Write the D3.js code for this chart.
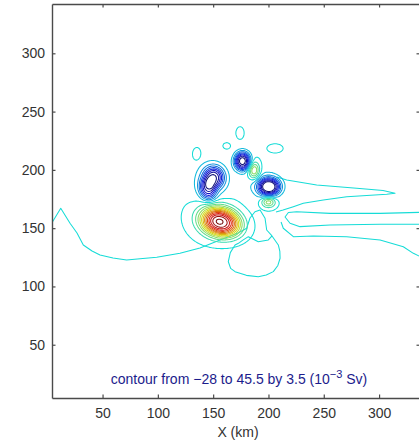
<!DOCTYPE html>
<html>
<head>
<meta charset="utf-8">
<script src="https://cdn.jsdelivr.net/npm/d3@7"></script>
<style>
  body { margin: 0; background: #fff; }
  svg { display: block; }
  text { font-family: "Liberation Sans", Arial, Helvetica, sans-serif; }
</style>
</head>
<body>
<script>
// Contour levels of the transport streamfunction (10^-3 Sv)
const levelMin = -28, levelMax = 45.5, levelStep = 3.5;
const xTicks = [50, 100, 150, 200, 250, 300];
const yTicks = [50, 100, 150, 200, 250, 300];

// Eddy features of the streamfunction field: centre (km), peak value (10^-3 Sv),
// e-folding radii (km), rotation (deg) and profile sharpness.
const eddyX     = [157,   150,  150.5,  145,   148,   176.5,  200.5, 196,   187,  200,  174.3, 162.2, 135.4, 205.9, 124.5, 146.5];
const eddyY     = [155,   160,  193.5,  183,   190,   207.5,  185.5, 188,   199.5, 172.5, 231.6, 220.5, 212.8, 218.4, 163,   212.5];
const eddyPeak  = [42,    6,    -22,    -18,   -7,    -30,    -31,   -4.5,  16,   14,   2,     2,     2,     2,     2,     2];
const eddyRx    = [17,    18,   9,      7,     15,    7,      9.5,   17,    5,    6,    3.4,   3.3,   4.2,   6.8,   1.4,   1.0];
const eddyRy    = [11.5,  16,   9,      9,     17,    7.7,    7.3,   13,    7,    4.5,  5,     2.6,   6.3,   3.6,   1.4,   1.0];
const eddyRot   = [-12,   0,    0,      20,    0,     0,      0,     0,     0,    0,    0,     0,     0,     0,     0,     0];
const eddyShape = [2.5,   2,    2.5,    2.5,   2,     2.5,    2.5,   2,     2,    2,    4,     4,     4,     4,     4,     4];
const background = -0.5;

// Zero streamline traced across the domain (km)
const zeroWest = [[4.0,154.2],[12.2,167.0],[20.6,154.2],[26.9,145.8],[32.6,135.6],[40.5,130.4],
  [47.7,127.0],[59.5,124.4],[71.8,122.7],[83.9,123.8],[99.0,125.0],[120.0,128.4],[138.1,133.0],
  [156.2,139.9],[172.5,145.9],[180.3,149.9],[183.3,158.7],[187.8,164.1],[192.4,165.6],
  [196.9,158.5],[198.4,148.4],[203.2,143.3]];
const zeroBasin = [[172.8,137.0],[169.8,135.6],[165.5,129],[163.7,121.2],[165.8,115.5],[169.8,112.7],
  [180,109.5],[190.8,108.4],[198,109.8],[204.4,112.7],[208.5,118],[210.5,124.2],[210.3,130],
  [208.9,135.6],[203.2,143.3],[199.9,139.9],[190.8,138.4],[181.8,142.7],[176.5,139.5],[172.8,137.0]];
const zeroNorthTongue = [[207.5,193.9],[216.5,191.3],[243.6,187.0],[279.8,184.2],[303.6,182.3],
  [314.4,179.9],[306.9,179.1],[270.8,177.0],[249.6,174.2],[231.5,171.3],[222.5,168.4],
  [213.2,165.6],[206.8,163.9]];
const zeroMidTongue = [[338,163.6],[300.9,162.7],[255.7,162.7],[225.5,164.1],[218.0,163.4],
  [215.0,159.6],[219.5,154.2],[228.5,151.3],[255.7,152.7],[300.9,153.3],[338,153.3]];
const zeroSouthTongue = [[211.4,155.3],[213.4,149.9],[222.5,142.7],[240.6,143.3],[270.7,142.7],
  [300.9,139.9],[321.9,134.1],[331.0,128.4],[338,125.3]];
const zeroLines = [zeroWest, zeroBasin, zeroNorthTongue, zeroMidTongue, zeroSouthTongue];

const W = 419, H = 442;
const plot = { left: 52, right: 420, top: 4, bottom: 398 };

const x = d3.scaleLinear().domain([4.3, 337]).range([plot.left, plot.right]);
const y = d3.scaleLinear().domain([4.3, 342.3]).range([plot.bottom, plot.top]);

// Jet colour map over the contour level range, slightly toned
function jet(t) {
  const c = v => Math.max(0, Math.min(1, v));
  const r = c(1.5 - Math.abs(4 * t - 3));
  const g = c(1.5 - Math.abs(4 * t - 2));
  const b = c(1.5 - Math.abs(4 * t - 1));
  const base = d3.rgb(r * 255, g * 255, b * 255);
  return d3.rgb(d3.interpolateRgb(base, "#808080")(0.15)).darker(0.2).formatHex();
}
const levels = d3.range(levelMin, levelMax + levelStep / 2, levelStep).map(v => +v.toFixed(2));
const colour = d3.scaleLinear().domain([levelMin, levelMax]).range([0, 1]);
const levelColour = v => jet(colour(v));

// Gridded field
const g0 = 2, step = 1, n = 342;
const values = new Float64Array(n * n);
const rad = eddyRot.map(d => d * Math.PI / 180);
for (let j = 0; j < n; j++) {
  const yy = g0 + j * step;
  for (let i = 0; i < n; i++) {
    const xx = g0 + i * step;
    let v = background;
    for (let k = 0; k < eddyX.length; k++) {
      const dx = xx - eddyX[k], dy = yy - eddyY[k];
      if (Math.abs(dx) > 6 * eddyRx[k] + 20 || Math.abs(dy) > 6 * eddyRy[k] + 20) continue;
      const cs = Math.cos(rad[k]), sn = Math.sin(rad[k]);
      const u = (dx * cs + dy * sn) / eddyRx[k];
      const w = (-dx * sn + dy * cs) / eddyRy[k];
      const q = u * u + w * w;
      v += eddyPeak[k] * Math.exp(-Math.pow(q, eddyShape[k] / 2));
    }
    values[j * n + i] = v;
  }
}
const negValues = values.map(v => -v);

const svg = d3.select("body").append("svg").attr("width", W).attr("height", H);
svg.append("clipPath").attr("id", "plotClip").append("rect")
  .attr("x", plot.left).attr("y", plot.top)
  .attr("width", plot.right - plot.left).attr("height", plot.bottom - plot.top);

const gridProjection = d3.geoTransform({
  point(px, py) {
    this.stream.point(x(g0 + (px - 0.5) * step), y(g0 + (py - 0.5) * step));
  }
});
const path = d3.geoPath(gridProjection);

const layer = svg.append("g").attr("clip-path", "url(#plotClip)");

// Zero streamline
const line = d3.line().x(d => x(d[0])).y(d => y(d[1]));
layer.append("g").selectAll("path").data(zeroLines).join("path")
  .attr("d", line)
  .attr("fill", "none")
  .attr("stroke", levelColour(0))
  .attr("stroke-width", 1.05)
  .attr("stroke-linejoin", "round");

// Contours: negative levels enclose lows, others enclose highs
const contourGen = d3.contours().size([n, n]);
const contourData = levels.map(lv => {
  const geom = lv < 0 ? contourGen.contour(negValues, -lv) : contourGen.contour(values, lv);
  return { level: lv, geom };
});
layer.append("g").selectAll("path").data(contourData).join("path")
  .attr("d", d => path(d.geom))
  .attr("fill", "none")
  .attr("stroke", d => levelColour(d.level))
  .attr("stroke-width", 1.05)
  .attr("stroke-linejoin", "round");

// Axes
const axisColour = "#4a4a4a";
function styleAxis(g) {
  g.select(".domain").attr("stroke", axisColour).attr("stroke-width", 1.4);
  g.selectAll(".tick line").attr("stroke", axisColour).attr("stroke-width", 1.2);
  g.selectAll(".tick text").attr("fill", "#333").attr("font-size", 14)
    .attr("font-family", "'Liberation Sans', Arial, Helvetica, sans-serif");
}
svg.append("g").attr("transform", `translate(0,${plot.bottom})`)
  .call(d3.axisBottom(x).tickValues(xTicks).tickSizeInner(-3.5).tickSizeOuter(0).tickPadding(10))
  .call(styleAxis);
svg.append("g").attr("transform", `translate(${plot.left},0)`)
  .call(d3.axisLeft(y).tickValues(yTicks).tickSizeInner(-3.5).tickSizeOuter(0).tickPadding(7))
  .call(styleAxis);
svg.append("g").attr("transform", `translate(0,${plot.top})`)
  .call(d3.axisTop(x).tickValues(xTicks).tickSizeInner(-3.5).tickSizeOuter(0).tickFormat(""))
  .call(styleAxis);
svg.append("g").attr("transform", `translate(${plot.right},0)`)
  .call(d3.axisRight(y).tickValues(yTicks).tickSizeInner(-3.5).tickSizeOuter(0).tickFormat(""))
  .call(styleAxis);

// Axis label
svg.append("text").attr("x", 238).attr("y", 437).attr("text-anchor", "middle")
  .attr("font-size", 14).attr("fill", "#333").text("X (km)");

// Contour interval note
const note = svg.append("text").attr("x", 239).attr("y", 384).attr("text-anchor", "middle")
  .attr("font-size", 14).attr("fill", "#1c1c8c");
note.append("tspan").text("contour from \u221228 to 45.5 by 3.5 (10");
note.append("tspan").attr("dy", -6).attr("font-size", 11).text("\u22123");
note.append("tspan").attr("dy", 6).text(" Sv)");
</script>
</body>
</html>
